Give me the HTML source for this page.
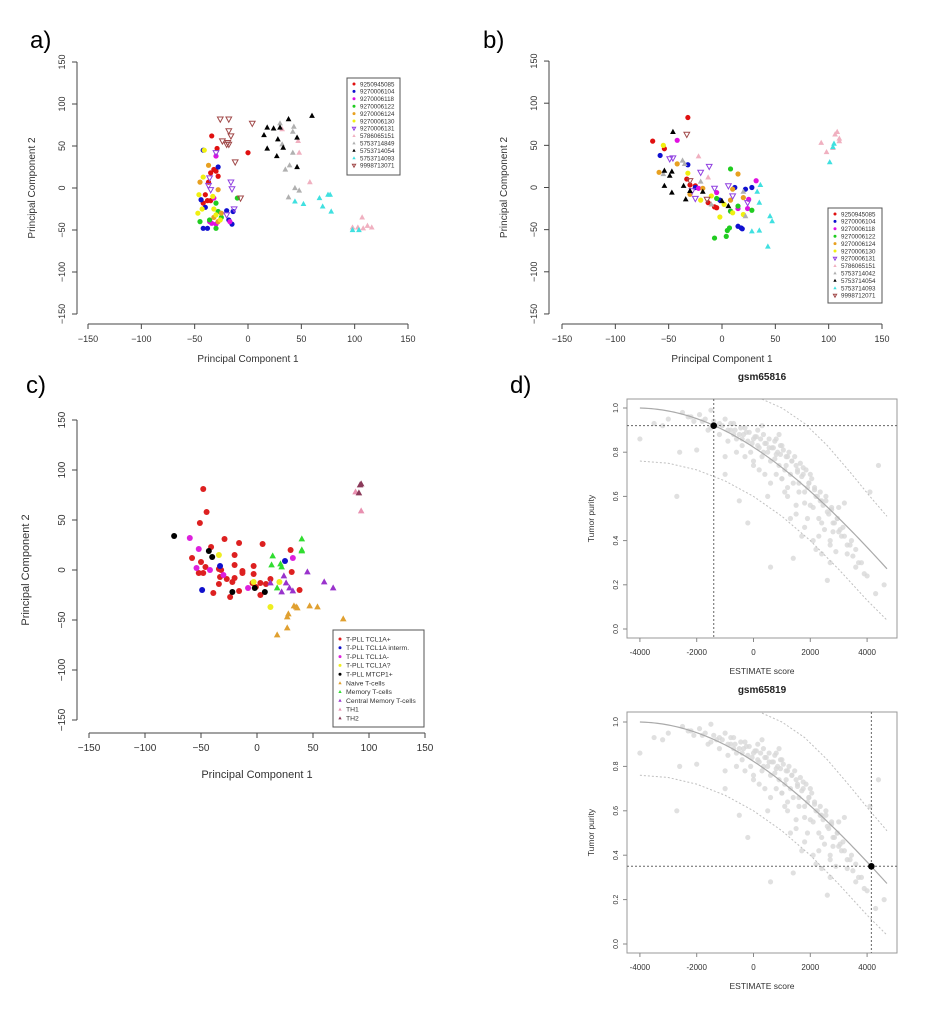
<!DOCTYPE html>
<html><head><meta charset="utf-8"><style>
html,body{margin:0;padding:0;background:#fff;}
svg{display:block;font-family:"Liberation Sans",sans-serif;}
</style></head><body>
<svg id="fig" width="933" height="1022" viewBox="0 0 933 1022" xmlns="http://www.w3.org/2000/svg">
<text x="30" y="48" font-size="24">a)</text>
<text x="483" y="48" font-size="24">b)</text>
<text x="26" y="393" font-size="24">c)</text>
<text x="510" y="393" font-size="24">d)</text>
</svg>
<script>
// ---------- Panel a data ----------
const aNames = ["9250945085","9270006104","9270006118","9270006122","9270006124","9270006130","9270006131","5786065151","5753714849","5753714054","5753714093","9998713071"];
const aRed = [[-34,62],[-29,47],[0,42],[-32,22],[-35,18],[-30,20],[-28,14],[-37,7],[-40,-8],[-38,-15],[-42,-18],[-35,-15]];
const aBlue = [[-42,45],[-28,25],[-44,-14],[-40,-23],[-42,-48],[-38,-48],[-20,-27],[-14,-28],[-18,-38],[-15,-43]];
const aMagenta = [[-30,38],[-32,-12],[-34,-42],[-30,-43],[-17,-40],[-36,-40]];
const aGreen = [[-30,-18],[-45,-40],[-28,-28],[-36,-38],[-30,-48],[-25,-35],[-10,-12]];
const aOrange = [[-37,27],[-45,7],[-28,-2],[-25,-30],[-32,-35],[-28,-40]];
const aYellow = [[-41,45],[-42,13],[-46,-8],[-33,-10],[-47,-30],[-43,-25],[-30,-32],[-26,-38],[-32,-25]];
const aPurple = [[-30,42],[-36,12],[-37,3],[-35,-2],[-16,7],[-15,-1],[-20,-32],[-13,-25]];
const aPink = [[32,70],[47,56],[48,42],[58,7],[107,-35],[98,-47],[103,-47],[112,-45],[116,-47],[108,-48]];
const aGray = [[30,77],[43,73],[42,67],[32,52],[42,42],[39,27],[35,22],[44,0],[48,-3],[38,-11]];
const aBlack = [[38,82],[60,86],[18,72],[24,71],[30,72],[15,63],[28,58],[46,60],[33,48],[18,47],[27,38],[46,25]];
const aCyan = [[75,-8],[77,-8],[67,-12],[70,-22],[52,-19],[44,-16],[78,-28],[98,-50],[104,-50]];
const aBrown = [[-26,82],[-18,82],[4,77],[-18,68],[-16,62],[-24,56],[-19,54],[-18,52],[-20,52],[-12,31],[-7,-12]];
// ---------- Panel b data ----------
const bRed = [[-65,55],[-54,46],[-32,83],[-30,3],[-33,10],[-25,2],[-13,-18],[-7,-23],[-5,-24]];
const bBlue = [[-58,38],[-32,27],[-25,0],[12,0],[22,-2],[28,0],[15,-46],[18,-48],[19,-49],[-2,-15]];
const bMagenta = [[-42,56],[32,8],[-5,-6],[25,-14],[15,-25],[24,-25],[-22,-1],[8,-28]];
const bGreen = [[8,22],[-5,-13],[8,-28],[5,-51],[7,-48],[4,-58],[-7,-60],[28,-27],[15,-22]];
const bOrange = [[-59,18],[-42,28],[15,16],[10,-2],[-18,-1],[20,-12],[-30,-8],[8,-15]];
const bYellow = [[-55,50],[-32,17],[-2,-35],[10,-30],[-10,-10],[-20,-15],[20,-32],[2,-20]];
const bPurple = [[-49,34],[-46,35],[-20,18],[-12,25],[-7,-1],[6,2],[-25,-13],[24,-18],[10,-10],[-28,-4]];
const bPink = [[-22,37],[-13,12],[93,53],[98,42],[104,47],[106,63],[108,66],[110,58],[110,55]];
const bGray = [[-37,32],[-35,28],[-55,16],[-20,7],[20,-5],[22,-34],[-10,-20]];
const bBlack = [[-46,66],[-54,20],[-47,19],[-49,14],[-54,2],[-47,-6],[-34,-14],[-36,2],[-30,-4],[-18,-5],[0,-16],[6,-22]];
const bCyan = [[36,3],[33,-5],[35,-18],[45,-34],[47,-40],[28,-52],[35,-51],[43,-70],[101,30],[105,52],[104,48]];
const bBrown = [[-33,63],[-30,8],[-14,-14]];
const bNames = ["9250945085","9270006104","9270006118","9270006122","9270006124","9270006130","9270006131","5786065151","5753714042","5753714054","5753714093","9998712071"];
// ---------- Panel c data ----------
const cNames = ["T-PLL TCL1A+","T-PLL TCL1A interm.","T-PLL TCL1A-","T-PLL TCL1A?","T-PLL MTCP1+","Naive T-cells","Memory T-cells","Central Memory T-cells","TH1","TH2"];
const cRed = [[-48,81],[-45,58],[-51,47],[-41,23],[-29,31],[-16,27],[5,26],[-58,12],[-50,8],[-46,3],[-52,-3],[-48,-3],[-34,1],[-32,0],[-33,-7],[-34,-14],[-39,-23],[-27,-9],[-22,-12],[-20,5],[-20,15],[-13,-1],[-13,-3],[-16,-21],[-3,4],[-3,-4],[-4,-13],[-1,-17],[3,-13],[3,-25],[8,-14],[12,-9],[30,20],[31,-2],[38,-20],[-24,-27],[-20,-8]];
const cBlue = [[-49,-20],[-33,4],[25,9]];
const cMagenta = [[-60,32],[-52,21],[-54,2],[-42,0],[-30,-5],[-8,-18],[32,12]];
const cYellow = [[-34,15],[-3,-12],[12,-37],[20,-12]];
const cBlack = [[-74,34],[-43,19],[-40,13],[-22,-22],[-2,-18],[7,-22]];
const cNaive = [[18,-65],[27,-58],[27,-47],[28,-44],[33,-36],[35,-37],[36,-38],[47,-36],[54,-37],[77,-49]];
const cMemory = [[14,14],[13,5],[21,6],[22,3],[40,31],[40,20],[40,19],[18,-18]];
const cCentral = [[24,-6],[26,-13],[22,-22],[29,-18],[32,-21],[45,-2],[60,-12],[68,-18],[12,-13]];
const cTH1 = [[88,78],[93,59]];
const cTH2 = [[92,85],[93,86],[91,77]];
// ---------- Panel d data ----------
const pcaTicks = [-150,-100,-50,0,50,100,150];
const dXTicks = [-4000,-2000,0,2000,4000];
const dYTicks = [0,0.2,0.4,0.6,0.8,1.0];
const dCloudScore = [-4000,-3500,-3000,-2700,-2500,-2300,-2100,-1900,-1800,-1600,-1500,-1300,-1200,-1000,-900,-800,-700,-600,-500,-400,-300,-200,-100,0,100,200,300,400,500,600,700,800,900,1000,1100,1200,1300,1400,1500,1600,1700,1800,1900,2000,2100,2200,2300,2400,2500,2600,2700,2800,2900,3000,3100,3300,3500,3700,3900,4100,4400,4600,-2000,-1000,-500,0,300,600,900,1200,1500,1800,2100,2400,2700,3000,-200,500,1300,1700,2200,2600,3200,600,1000,1400,
 -2200,-1700,-1400,-1100,-800,-650,-450,-350,-150,50,150,250,350,450,550,650,750,850,950,1050,1150,1250,1350,1450,1550,1650,1750,1850,1950,2050,2150,2250,2350,2450,2550,2650,2750,2850,2950,3050,3200,3400,3600,3800,
 -1500,-1200,-900,-700,-400,-250,-50,150,350,550,750,950,1150,1350,1550,1750,1950,2150,2350,2550,2750,2950,3150,3450,
 -600,-300,0,200,400,800,1000,1200,1600,1800,2000,2400,2800,3300,800,1100,1500,1900,2300,2700,-1000,-2600,-3200,3600,4000,4300];
const dCloudPurity = [0.86,0.93,0.95,0.60,0.98,0.96,0.94,0.97,0.94,0.90,0.99,0.92,0.88,0.95,0.85,0.90,0.93,0.86,0.88,0.83,0.91,0.85,0.80,0.86,0.87,0.82,0.78,0.84,0.80,0.76,0.82,0.79,0.74,0.83,0.72,0.78,0.70,0.66,0.74,0.62,0.69,0.57,0.64,0.70,0.55,0.60,0.50,0.58,0.45,0.53,0.40,0.48,0.35,0.55,0.42,0.38,0.33,0.30,0.25,0.62,0.74,0.20,0.81,0.70,0.58,0.76,0.92,0.66,0.88,0.60,0.52,0.46,0.40,0.34,0.30,0.44,0.48,0.60,0.50,0.42,0.36,0.22,0.57,0.28,0.68,0.32,
 0.96,0.95,0.94,0.92,0.93,0.90,0.91,0.88,0.89,0.87,0.90,0.86,0.88,0.84,0.86,0.82,0.85,0.80,0.83,0.81,0.78,0.80,0.76,0.78,0.72,0.75,0.70,0.72,0.66,0.68,0.63,0.60,0.62,0.56,0.58,0.52,0.54,0.48,0.50,0.45,0.42,0.38,0.36,0.30,
 0.91,0.93,0.90,0.88,0.86,0.89,0.84,0.83,0.80,0.82,0.77,0.79,0.74,0.76,0.71,0.73,0.66,0.64,0.58,0.60,0.55,0.50,0.46,0.40,
 0.80,0.78,0.74,0.72,0.70,0.86,0.68,0.64,0.66,0.62,0.56,0.48,0.44,0.34,0.70,0.62,0.56,0.50,0.42,0.38,0.78,0.80,0.92,0.28,0.24,0.16];
const dUpperScore = [300,1000,1800,2600,3400,4100,4700];
const dUpperPurity = [1.04,1.0,0.93,0.83,0.71,0.60,0.51];
const dLowerScore = [-4000,-3000,-2000,-1000,0,1000,2000,3000,4000,4700];
const dLowerPurity = [0.76,0.75,0.72,0.67,0.60,0.51,0.40,0.27,0.13,0.04];
const dSamples = ["gsm65816","gsm65819"];
const dSampleScore = [-1400,4150];
const dSamplePurity = [0.92,0.35];

const NS="http://www.w3.org/2000/svg";
const svg=document.getElementById('fig');
function mk(tag,attrs,name,parent){
  const el=document.createElementNS(NS,tag);
  
  
  for(const k in attrs) el.setAttribute(k,attrs[k]);
  (parent||svg).appendChild(el);
  return el;
}
function txt(x,y,s,size,name,extra){
  const t=mk('text',Object.assign({x:x,y:y,'font-size':size,'text-anchor':'middle',fill:'#333'},extra||{}),name);
  t.textContent=s; return t;
}
function marker(g,shape,px,py,color,s,name){
  if(shape==='c'){ mk('circle',{cx:px,cy:py,r:s,fill:color},name,g); }
  else if(shape==='t'){ mk('polygon',{points:`${px},${py-s*1.2} ${px-s*1.1},${py+s*0.8} ${px+s*1.1},${py+s*0.8}`,fill:color},name,g); }
  else if(shape==='v'){ mk('polygon',{points:`${px},${py+s*1.2} ${px-s*1.1},${py-s*0.8} ${px+s*1.1},${py-s*0.8}`,fill:'none',stroke:color,'stroke-width':1},name,g); }
}
function pcaPanel(P,series,names,legend,prefix){
  const X=v=>P.x0+v*P.sx, Y=v=>P.y0-v*P.sy;
  const g=mk('g',{},prefix+'-plot');
  mk('line',{x1:X(-150),x2:X(150),y1:P.ax,y2:P.ax,stroke:'#444','stroke-width':1},prefix+'-x-axis',g);
  mk('line',{x1:P.ay,x2:P.ay,y1:Y(-150),y2:Y(150),stroke:'#444','stroke-width':1},prefix+'-y-axis',g);
  pcaTicks.forEach(t=>{
    mk('line',{x1:X(t),x2:X(t),y1:P.ax,y2:P.ax+5,stroke:'#444'},prefix+'-x-tick',g);
    txt(X(t),P.ax+18,String(t).replace('-','\u2212'),P.fs,prefix+'-x-tick-label');
    mk('line',{x1:P.ay,x2:P.ay-5,y1:Y(t),y2:Y(t),stroke:'#444'},prefix+'-y-tick',g);
    txt(P.ay-12,Y(t),String(t).replace('-','\u2212'),P.fs,prefix+'-y-tick-label',{transform:`rotate(-90 ${P.ay-12} ${Y(t)})`});
  });
  txt((X(-150)+X(150))/2,P.ax+P.tOff,'Principal Component 1',P.fs+1,prefix+'-x-axis-title');
  const yt=(Y(-150)+Y(150))/2;
  txt(P.ay-P.yOff,yt,'Principal Component 2',P.fs+1,prefix+'-y-axis-title',{transform:`rotate(-90 ${P.ay-P.yOff} ${yt})`});
  series.forEach((s,i)=>{
    s.data.forEach(d=>marker(g,s.shape,X(d[0]),Y(d[1]),s.color,P.ms,prefix+'-point-'+i));
  });
  const L=legend;
  mk('rect',{x:L.x,y:L.y,width:L.w,height:L.h,fill:'#fff',stroke:'#555','stroke-width':1},prefix+'-legend',g);
  names.forEach((n,i)=>{
    const yy=L.y+L.pad+i*L.row;
    marker(g,series[i].shape,L.x+7,yy,series[i].color,1.5,prefix+'-legend-marker');
    const t=mk('text',{x:L.x+13,y:yy+2.3,'font-size':L.fs,fill:'#333'},prefix+'-legend-entry');
    t.textContent=n;
  });
}
const aSeries=[{data:aRed,color:'#e01010',shape:'c'},{data:aBlue,color:'#1010d0',shape:'c'},{data:aMagenta,color:'#e010e0',shape:'c'},{data:aGreen,color:'#20cc20',shape:'c'},{data:aOrange,color:'#e8a020',shape:'c'},{data:aYellow,color:'#f0f010',shape:'c'},{data:aPurple,color:'#9040e0',shape:'v'},{data:aPink,color:'#f0b0c0',shape:'t'},{data:aGray,color:'#b0b0b0',shape:'t'},{data:aBlack,color:'#000',shape:'t'},{data:aCyan,color:'#40e0e0',shape:'t'},{data:aBrown,color:'#a04848',shape:'v'}];
pcaPanel({x0:248,sx:1.0667,y0:188,sy:0.84,ax:324,ay:77,fs:9,ms:2.6,tOff:38,yOff:42},aSeries,aNames,{x:347,y:78,w:53,h:97,pad:6,row:7.4,fs:6.2},'panel-a');
const bSeries=[{data:bRed,color:'#e01010',shape:'c'},{data:bBlue,color:'#1010d0',shape:'c'},{data:bMagenta,color:'#e010e0',shape:'c'},{data:bGreen,color:'#20cc20',shape:'c'},{data:bOrange,color:'#e8a020',shape:'c'},{data:bYellow,color:'#f0f010',shape:'c'},{data:bPurple,color:'#9040e0',shape:'v'},{data:bPink,color:'#f0b0c0',shape:'t'},{data:bGray,color:'#b0b0b0',shape:'t'},{data:bBlack,color:'#000',shape:'t'},{data:bCyan,color:'#40e0e0',shape:'t'},{data:bBrown,color:'#a04848',shape:'v'}];
pcaPanel({x0:722,sx:1.0667,y0:187.5,sy:0.843,ax:324,ay:549,fs:9,ms:2.6,tOff:38,yOff:42},bSeries,bNames,{x:828,y:208,w:54,h:95,pad:6,row:7.4,fs:6.2},'panel-b');
const cSeries=[{data:cRed,color:'#dd2020',shape:'c'},{data:cBlue,color:'#1010cc',shape:'c'},{data:cMagenta,color:'#dd20dd',shape:'c'},{data:cYellow,color:'#eeee20',shape:'c'},{data:cBlack,color:'#000',shape:'c'},{data:cNaive,color:'#e0a030',shape:'t'},{data:cMemory,color:'#30dd30',shape:'t'},{data:cCentral,color:'#9933cc',shape:'t'},{data:cTH1,color:'#e890b0',shape:'t'},{data:cTH2,color:'#8b3a5a',shape:'t'}];
pcaPanel({x0:257,sx:1.12,y0:570,sy:1.0,ax:733,ay:77,fs:10,ms:3,tOff:45,yOff:48},cSeries,cNames,{x:333,y:630,w:91,h:97,pad:9,row:8.8,fs:6.8},'panel-c');

function dPanel(P,k){
  const X=v=>P.x0+v*P.sx/1000, Y=v=>P.y0-(P.y0-P.y1)*v;
  const pre='panel-d'+(k+1);
  const g=mk('g',{},pre+'-plot');
  dCloudScore.forEach((s,i)=>mk('circle',{cx:X(s),cy:Y(dCloudPurity[i]),r:2.6,fill:'#d8d8d8','fill-opacity':0.8},pre+'-reference-point',g));
  let pts=[];for(let s=-4000;s<=4700;s+=100)pts.push(X(s)+','+Y(Math.cos(0.6049872018+0.0001467884*s)));
  mk('polyline',{points:pts.join(' '),fill:'none',stroke:'#aaa','stroke-width':1.2},pre+'-fit-curve',g);
  mk('polyline',{points:dUpperScore.map((s,i)=>X(s)+','+Y(dUpperPurity[i])).join(' '),fill:'none',stroke:'#c0c0c0','stroke-dasharray':'2,2'},pre+'-upper-bound',g);
  mk('polyline',{points:dLowerScore.map((s,i)=>X(s)+','+Y(dLowerPurity[i])).join(' '),fill:'none',stroke:'#c0c0c0','stroke-dasharray':'2,2'},pre+'-lower-bound',g);
  mk('rect',{x:P.bx,y:P.by,width:P.bw,height:P.bh,fill:'none',stroke:'#999'},pre+'-frame',g);
  const sx=X(dSampleScore[k]), sy=Y(dSamplePurity[k]);
  mk('line',{x1:sx,x2:sx,y1:P.by,y2:P.by+P.bh,stroke:'#666','stroke-dasharray':'2,2'},pre+'-sample-vline',g);
  mk('line',{x1:P.bx,x2:P.bx+P.bw,y1:sy,y2:sy,stroke:'#666','stroke-dasharray':'2,2'},pre+'-sample-hline',g);
  mk('circle',{cx:sx,cy:sy,r:3.3,fill:'#000'},pre+'-sample-point',g);
  dXTicks.forEach(t=>{
    mk('line',{x1:X(t),x2:X(t),y1:P.by+P.bh,y2:P.by+P.bh+4,stroke:'#888'},pre+'-x-tick',g);
    txt(X(t),P.by+P.bh+17,String(t),8,pre+'-x-tick-label');
  });
  dYTicks.forEach(t=>{
    const yy=Y(t);
    mk('line',{x1:P.bx,x2:P.bx-4,y1:yy,y2:yy,stroke:'#888'},pre+'-y-tick',g);
    txt(P.bx-9,yy,t.toFixed(1),7,pre+'-y-tick-label',{transform:`rotate(-90 ${P.bx-9} ${yy})`});
  });
  txt(P.bx+P.bw/2,P.by+P.bh+36,'ESTIMATE score',8.5,pre+'-x-axis-title');
  const cy=P.by+P.bh/2;
  txt(P.bx-33,cy,'Tumor purity',8.5,pre+'-y-axis-title',{transform:`rotate(-90 ${P.bx-33} ${cy})`});
  txt(P.bx+P.bw/2,P.by-19,dSamples[k],10,pre+'-title',{'font-weight':'bold',fill:'#222'});
}
dPanel({x0:753.5,sx:28.4,y0:629,y1:408,bx:627,by:399,bw:270,bh:239},0);
dPanel({x0:753.5,sx:28.4,y0:944,y1:722,bx:627,by:712,bw:270,bh:241},1);
</script>
</body></html>
